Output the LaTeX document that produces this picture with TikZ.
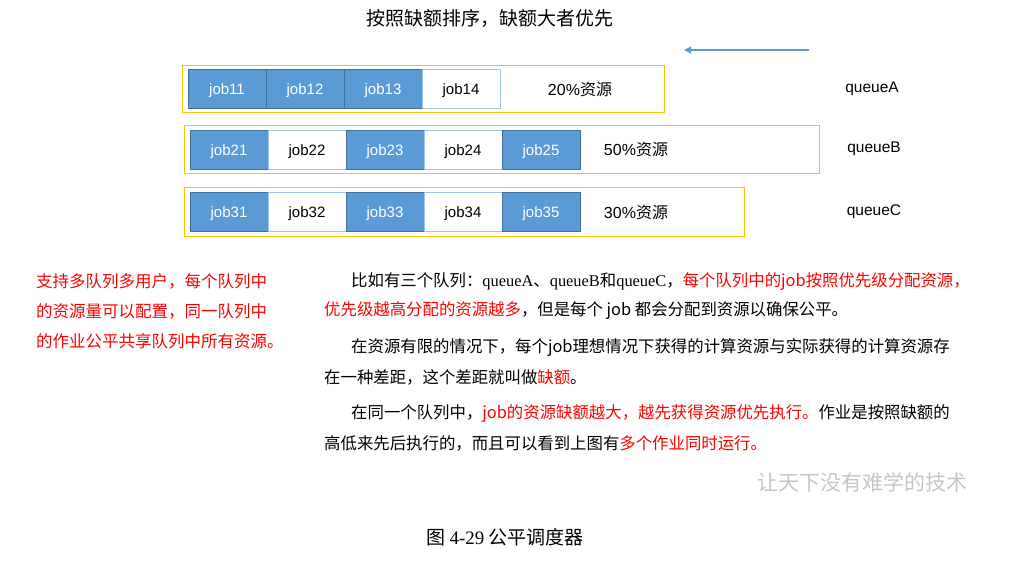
\documentclass[tikz,border=0pt]{standalone}
\usepackage{fontspec}
\setmainfont{Noto Sans CJK SC}
\newfontfamily\arialfont{Liberation Sans}
\newfontfamily\seriffont{Liberation Serif}
\usetikzlibrary{positioning, arrows.meta}

\definecolor{jobblue}{HTML}{5B9BD5}
\definecolor{jobedge}{HTML}{41719C}
\definecolor{lightedge}{HTML}{9DC3E6}
\definecolor{queueyellow}{HTML}{FFC000}
\newcommand{\hl}[1]{\textcolor{red}{#1}}

\begin{document}
\begin{tikzpicture}[x=1pt, y=-1pt,
    jobfull/.style={draw=jobedge, fill=jobblue, text=white, minimum width=77.6pt, minimum height=39pt,
        inner sep=0pt, text depth=0pt, font=\arialfont\fontsize{15}{18}\selectfont},
    jobempty/.style={jobfull, draw=lightedge, fill=white, text=black},
    queuebox/.style={draw=queueyellow, line width=1.4pt, anchor=north west, inner sep=0pt},
    share/.style={font=\fontsize{16}{19}\selectfont},
    qlabel/.style={font=\arialfont\fontsize{15.5}{18}\selectfont},
    para/.style={anchor=west, inner sep=0pt, font=\fontsize{16.4}{19}\selectfont}]
    \useasboundingbox (0,0) rectangle (1028,562);

    \node[font=\fontsize{19}{22}\selectfont] (title) at (490,18) {按照缺额排序，缺额大者优先};

    % direction of the ordering
    \coordinate (arrowStart) at (809,50);
    \coordinate (arrowEnd) at (684,50);
    \draw[jobblue, line width=1.2pt, -{Triangle[length=7pt, width=7pt]}] (arrowStart) -- (arrowEnd);

    % queueA
    \node[queuebox, minimum width=482pt, minimum height=47pt] (boxA) at (182,65) {};
    \node[jobfull, anchor=north west] (job11) at (188,69) {job11};
    \foreach \i/\prev/\s in {12/11/jobfull, 13/12/jobfull, 14/13/jobempty}
        \node[\s, right=0pt of job\prev] (job\i) {job\i};
    \node[share] (shareA) at (580,89) {{\arialfont 20\%}资源};
    \node[qlabel] (queueA) at (872,89) {queueA};

    % queueB
    \node[queuebox, minimum width=635pt, minimum height=48pt] (boxB) at (184,125) {};
    \node[jobfull, anchor=north west] (job21) at (190,130) {job21};
    \foreach \i/\prev/\s in {22/21/jobempty, 23/22/jobfull, 24/23/jobempty, 25/24/jobfull}
        \node[\s, right=0pt of job\prev] (job\i) {job\i};
    \node[share] (shareB) at (636,149) {{\arialfont 50\%}资源};
    \node[qlabel] (queueB) at (874,149) {queueB};

    % queueC
    \node[queuebox, minimum width=560pt, minimum height=49pt] (boxC) at (184,187) {};
    \node[jobfull, anchor=north west] (job31) at (190,192) {job31};
    \foreach \i/\prev/\s in {32/31/jobempty, 33/32/jobfull, 34/33/jobempty, 35/34/jobfull}
        \node[\s, right=0pt of job\prev] (job\i) {job\i};
    \node[share] (shareC) at (636,212) {{\arialfont 30\%}资源};
    \node[qlabel] (queueC) at (874,212) {queueC};

    % side note
    \node[para, text=red, font=\fontsize{16.5}{19}\selectfont] (note1) at (36,281) {支持多队列多用户，每个队列中};
    \node[para, text=red, font=\fontsize{16.5}{19}\selectfont] (note2) at (36,311) {的资源量可以配置，同一队列中};
    \node[para, text=red, font=\fontsize{16.5}{19}\selectfont] (note3) at (36,341) {的作业公平共享队列中所有资源。};

    % explanation
    \node[para] (line1) at (351,282) {比如有三个队列：{\seriffont queueA}、{\seriffont queueB}和{\seriffont queueC}，\hl{每个队列中的job按照优先级分配资源，}};
    \node[para] (line2) at (324,311) {\hl{优先级越高分配的资源越多}，但是每个 job 都会分配到资源以确保公平。};
    \node[para] (line3) at (351,348) {在资源有限的情况下，每个job理想情况下获得的计算资源与实际获得的计算资源存};
    \node[para] (line4) at (324,377) {在一种差距，这个差距就叫做\hl{缺额}。};
    \node[para] (line5) at (351,414) {在同一个队列中，\hl{job的资源缺额越大，越先获得资源优先执行。}作业是按照缺额的};
    \node[para] (line6) at (324,443) {高低来先后执行的，而且可以看到上图有\hl{多个作业同时运行。}};

    \node[text=gray!45, font=\fontsize{21}{23}\selectfont] (motto) at (862,482) {让天下没有难学的技术};

    \node[font=\fontsize{19}{22}\selectfont] (caption) at (505,537) {图 {\seriffont 4-29} 公平调度器};
\end{tikzpicture}
\end{document}
